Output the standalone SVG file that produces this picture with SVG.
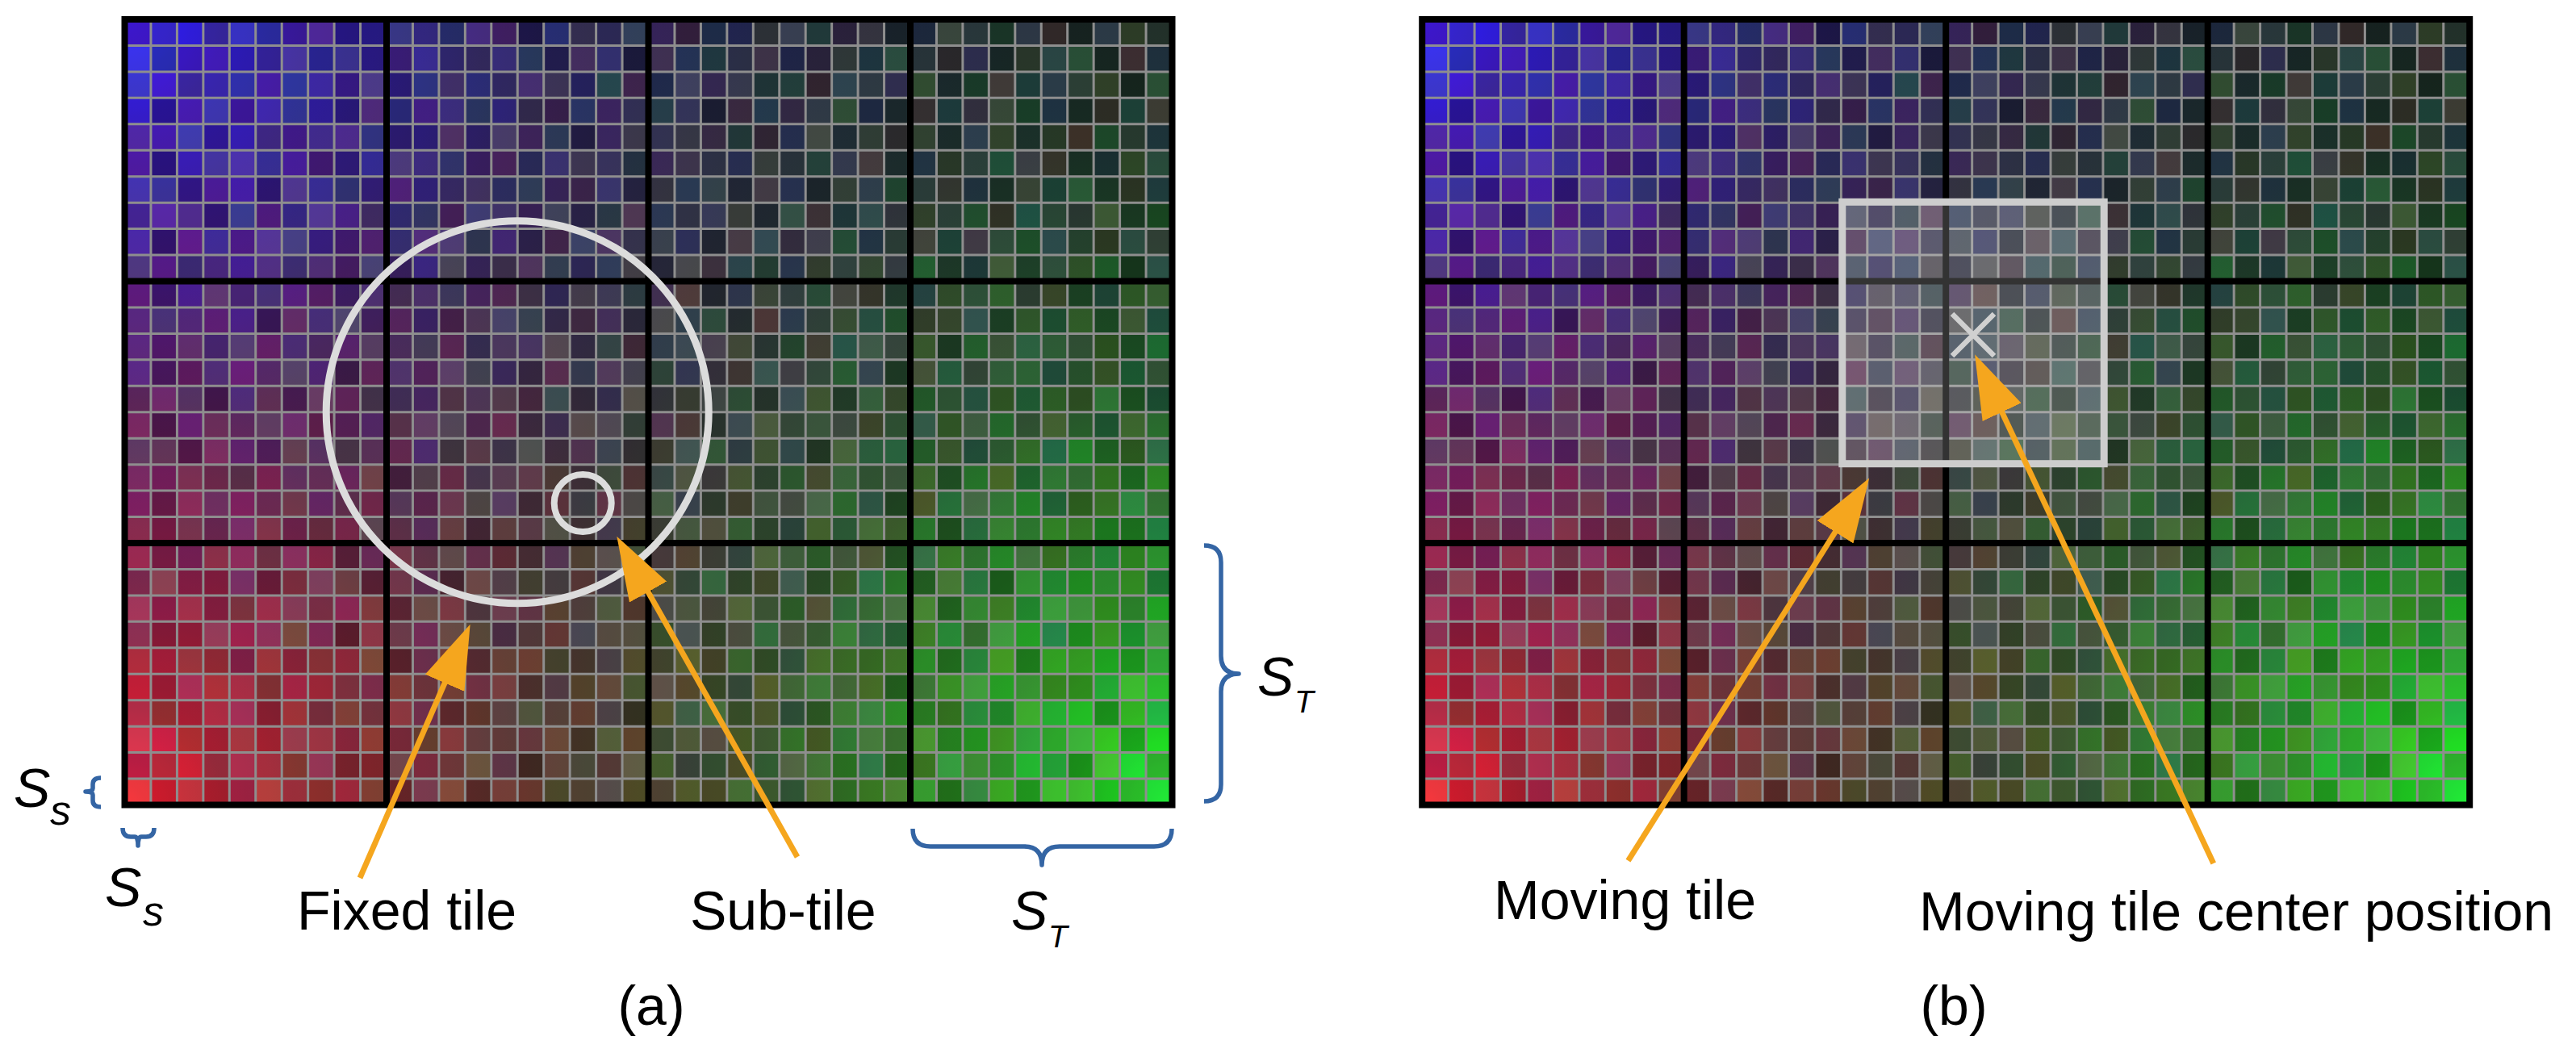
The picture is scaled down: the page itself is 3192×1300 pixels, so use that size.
<svg xmlns="http://www.w3.org/2000/svg" xmlns:xlink="http://www.w3.org/1999/xlink" width="3192" height="1300" viewBox="0 0 3192 1300">
<style>
.lbl{font-family:"Liberation Sans",Arial,sans-serif;font-size:68px;fill:#000}
.math{font-family:"Liberation Sans",Arial,sans-serif;font-style:italic;fill:#000}
.brace{fill:none;stroke:#3465a4;stroke-width:5.5;stroke-linecap:butt;stroke-linejoin:round}
.arrow{stroke:#f5a61e;stroke-width:7;fill:none}
.ring{fill:none;stroke:#dcdcdc}
.r{fill:#ff2020}.g{fill:#20ff30}.b{fill:#3030ff}.y{fill:#d8c820}.m{fill:#e020c0}.c{fill:#20c8d8}.k{fill:#000}.w{fill:#fff}
.scr{mix-blend-mode:screen}
.sub{stroke:#8e8e8e;fill:none}
.tile{stroke:#000;stroke-width:8;fill:none}
</style>
<defs>
<radialGradient id="gb" gradientUnits="userSpaceOnUse" cx="0" cy="0" r="1400">
<stop offset="0" stop-color="rgb(0,0,255)"/><stop offset=".021" stop-color="rgb(0,0,240)"/><stop offset=".086" stop-color="rgb(0,0,185)"/><stop offset=".164" stop-color="rgb(0,0,145)"/><stop offset=".364" stop-color="rgb(0,0,70)"/><stop offset=".586" stop-color="rgb(0,0,30)"/><stop offset=".786" stop-color="rgb(0,0,12)"/><stop offset="1" stop-color="rgb(0,0,0)"/>
</radialGradient>
<radialGradient id="gr" gradientUnits="userSpaceOnUse" cx="0" cy="973.5" r="1400">
<stop offset="0" stop-color="rgb(250,0,0)"/><stop offset=".021" stop-color="rgb(232,0,0)"/><stop offset=".086" stop-color="rgb(180,0,0)"/><stop offset=".164" stop-color="rgb(142,0,0)"/><stop offset=".364" stop-color="rgb(68,0,0)"/><stop offset=".586" stop-color="rgb(29,0,0)"/><stop offset=".786" stop-color="rgb(11,0,0)"/><stop offset="1" stop-color="rgb(0,0,0)"/>
</radialGradient>
<radialGradient id="gg" gradientUnits="userSpaceOnUse" cx="1298" cy="973.5" r="1400">
<stop offset="0" stop-color="rgb(0,255,0)"/><stop offset=".021" stop-color="rgb(0,240,0)"/><stop offset=".086" stop-color="rgb(0,185,0)"/><stop offset=".164" stop-color="rgb(0,145,0)"/><stop offset=".364" stop-color="rgb(0,70,0)"/><stop offset=".586" stop-color="rgb(0,30,0)"/><stop offset=".786" stop-color="rgb(0,12,0)"/><stop offset="1" stop-color="rgb(0,0,0)"/>
</radialGradient>
<pattern id="pa" patternUnits="userSpaceOnUse" x="0" y="0" width="227.15" height="162.25">
<rect class="r" x="0" y="0" width="32.45" height="32.45" opacity=".10"/>
<rect class="k" x="32.45" y="0" width="32.45" height="32.45" opacity=".15"/>
<rect class="b" x="64.9" y="0" width="32.45" height="32.45" opacity=".08"/>
<rect class="y" x="97.35" y="0" width="32.45" height="32.45" opacity=".09"/>
<rect class="w" x="129.8" y="0" width="32.45" height="32.45" opacity=".05"/>
<rect class="g" x="162.25" y="0" width="32.45" height="32.45" opacity=".08"/>
<rect class="m" x="194.7" y="0" width="32.45" height="32.45" opacity=".09"/>
<rect class="c" x="0" y="32.45" width="32.45" height="32.45" opacity=".08"/>
<rect class="g" x="32.45" y="32.45" width="32.45" height="32.45" opacity=".10"/>
<rect class="k" x="64.9" y="32.45" width="32.45" height="32.45" opacity=".10"/>
<rect class="r" x="97.35" y="32.45" width="32.45" height="32.45" opacity=".08"/>
<rect class="b" x="129.8" y="32.45" width="32.45" height="32.45" opacity=".10"/>
<rect class="k" x="162.25" y="32.45" width="32.45" height="32.45" opacity=".18"/>
<rect class="y" x="194.7" y="32.45" width="32.45" height="32.45" opacity=".08"/>
<rect class="w" x="0" y="64.9" width="32.45" height="32.45" opacity=".06"/>
<rect class="m" x="32.45" y="64.9" width="32.45" height="32.45" opacity=".08"/>
<rect class="y" x="64.9" y="64.9" width="32.45" height="32.45" opacity=".10"/>
<rect class="k" x="97.35" y="64.9" width="32.45" height="32.45" opacity=".12"/>
<rect class="g" x="129.8" y="64.9" width="32.45" height="32.45" opacity=".09"/>
<rect class="r" x="162.25" y="64.9" width="32.45" height="32.45" opacity=".10"/>
<rect class="c" x="194.7" y="64.9" width="32.45" height="32.45" opacity=".07"/>
<rect class="b" x="0" y="97.35" width="32.45" height="32.45" opacity=".10"/>
<rect class="k" x="32.45" y="97.35" width="32.45" height="32.45" opacity=".18"/>
<rect class="r" x="64.9" y="97.35" width="32.45" height="32.45" opacity=".09"/>
<rect class="c" x="97.35" y="97.35" width="32.45" height="32.45" opacity=".09"/>
<rect class="m" x="129.8" y="97.35" width="32.45" height="32.45" opacity=".10"/>
<rect class="w" x="162.25" y="97.35" width="32.45" height="32.45" opacity=".06"/>
<rect class="g" x="194.7" y="97.35" width="32.45" height="32.45" opacity=".10"/>
<rect class="y" x="0" y="129.8" width="32.45" height="32.45" opacity=".08"/>
<rect class="r" x="32.45" y="129.8" width="32.45" height="32.45" opacity=".07"/>
<rect class="g" x="64.9" y="129.8" width="32.45" height="32.45" opacity=".09"/>
<rect class="k" x="97.35" y="129.8" width="32.45" height="32.45" opacity=".15"/>
<rect class="b" x="129.8" y="129.8" width="32.45" height="32.45" opacity=".09"/>
<rect class="y" x="162.25" y="129.8" width="32.45" height="32.45" opacity=".10"/>
<rect class="k" x="194.7" y="129.8" width="32.45" height="32.45" opacity=".08"/>
</pattern>
<pattern id="pb" patternUnits="userSpaceOnUse" x="0" y="0" width="194.7" height="227.15">
<rect class="k" x="0" y="0" width="32.45" height="32.45" opacity=".10"/>
<rect class="w" x="32.45" y="0" width="32.45" height="32.45" opacity=".06"/>
<rect class="k" x="97.35" y="0" width="32.45" height="32.45" opacity=".15"/>
<rect class="c" x="129.8" y="0" width="32.45" height="32.45" opacity=".07"/>
<rect class="k" x="162.25" y="0" width="32.45" height="32.45" opacity=".06"/>
<rect class="w" x="0" y="32.45" width="32.45" height="32.45" opacity=".05"/>
<rect class="k" x="32.45" y="32.45" width="32.45" height="32.45" opacity=".12"/>
<rect class="m" x="64.9" y="32.45" width="32.45" height="32.45" opacity=".07"/>
<rect class="k" x="129.8" y="32.45" width="32.45" height="32.45" opacity=".08"/>
<rect class="w" x="162.25" y="32.45" width="32.45" height="32.45" opacity=".05"/>
<rect class="g" x="0" y="64.9" width="32.45" height="32.45" opacity=".07"/>
<rect class="k" x="64.9" y="64.9" width="32.45" height="32.45" opacity=".14"/>
<rect class="w" x="97.35" y="64.9" width="32.45" height="32.45" opacity=".06"/>
<rect class="b" x="162.25" y="64.9" width="32.45" height="32.45" opacity=".08"/>
<rect class="k" x="32.45" y="97.35" width="32.45" height="32.45" opacity=".08"/>
<rect class="y" x="97.35" y="97.35" width="32.45" height="32.45" opacity=".07"/>
<rect class="k" x="129.8" y="97.35" width="32.45" height="32.45" opacity=".14"/>
<rect class="r" x="0" y="129.8" width="32.45" height="32.45" opacity=".07"/>
<rect class="w" x="64.9" y="129.8" width="32.45" height="32.45" opacity=".06"/>
<rect class="k" x="162.25" y="129.8" width="32.45" height="32.45" opacity=".12"/>
<rect class="k" x="32.45" y="162.25" width="32.45" height="32.45" opacity=".16"/>
<rect class="c" x="97.35" y="162.25" width="32.45" height="32.45" opacity=".06"/>
<rect class="w" x="129.8" y="162.25" width="32.45" height="32.45" opacity=".05"/>
<rect class="w" x="0" y="194.7" width="32.45" height="32.45" opacity=".05"/>
<rect class="k" x="64.9" y="194.7" width="32.45" height="32.45" opacity=".10"/>
<rect class="m" x="129.8" y="194.7" width="32.45" height="32.45" opacity=".06"/>
<rect class="k" x="162.25" y="194.7" width="32.45" height="32.45" opacity=".09"/>
</pattern>
<marker id="ah" viewBox="0 -27 80 54" refX="1" refY="0" markerWidth="80" markerHeight="54" markerUnits="userSpaceOnUse" orient="auto">
<path d="M0,-26.5 L79,0 L0,26.5 Z" fill="#f5a61e"/>
</marker>
</defs>
<rect width="3192" height="1300" fill="#fff"/>

<g id="panel-a" transform="translate(154.5,24)">
<g style="isolation:isolate">
<rect width="1298" height="973.5" fill="rgb(28,26,34)"/>
<rect class="scr" width="1298" height="973.5" fill="url(#gb)"/>
<rect class="scr" width="1298" height="973.5" fill="url(#gr)"/>
<rect class="scr" width="1298" height="973.5" fill="url(#gg)"/>
</g>
<rect width="1298" height="973.5" fill="url(#pa)"/>
<rect width="1298" height="973.5" fill="url(#pb)"/>
<line class="sub" x1="0" y1="486.75" x2="1298" y2="486.75" stroke-width="973.5" stroke-dasharray="3 29.45" stroke-dashoffset="1.5"/>
<line class="sub" x1="649" y1="0" x2="649" y2="973.5" stroke-width="1298" stroke-dasharray="3 29.45" stroke-dashoffset="1.5"/>
<path class="tile" d="M324.5 0V973.5M649 0V973.5M973.5 0V973.5M0 324.5H1298M0 649H1298"/>
<rect class="tile" x="0" y="0" width="1298" height="973.5"/>
</g>

<g id="panel-b" transform="translate(1762.2,24)">
<g style="isolation:isolate">
<rect width="1298" height="973.5" fill="rgb(28,26,34)"/>
<rect class="scr" width="1298" height="973.5" fill="url(#gb)"/>
<rect class="scr" width="1298" height="973.5" fill="url(#gr)"/>
<rect class="scr" width="1298" height="973.5" fill="url(#gg)"/>
</g>
<rect width="1298" height="973.5" fill="url(#pa)"/>
<rect width="1298" height="973.5" fill="url(#pb)"/>
<line class="sub" x1="0" y1="486.75" x2="1298" y2="486.75" stroke-width="973.5" stroke-dasharray="3 29.45" stroke-dashoffset="1.5"/>
<line class="sub" x1="649" y1="0" x2="649" y2="973.5" stroke-width="1298" stroke-dasharray="3 29.45" stroke-dashoffset="1.5"/>
<path class="tile" d="M324.5 0V973.5M649 0V973.5M973.5 0V973.5M0 324.5H1298M0 649H1298"/>
<rect class="tile" x="0" y="0" width="1298" height="973.5"/>
</g>

<g id="fixed-tile">
<circle class="ring" cx="641.2" cy="510.7" r="237" stroke-width="9"/>
</g>
<g id="sub-tile">
<circle class="ring" cx="722.2" cy="623.5" r="35.5" stroke-width="8"/>
</g>

<g id="moving-tile">
<rect x="2282.8" y="250.3" width="324.4" height="324.4" fill="#fff" fill-opacity="0.2" stroke="#cdcdcd" stroke-width="9"/>
</g>
<g id="moving-tile-center">
<path d="M2419 389L2471 441M2471 389L2419 441" stroke="#d0d0d0" stroke-width="6.5" fill="none"/>
</g>

<g id="connectors">
<line class="arrow" x1="446" y1="1088" x2="551.5" y2="845.4" marker-end="url(#ah)"/>
<line class="arrow" x1="988" y1="1062" x2="802.6" y2="732.7" marker-end="url(#ah)"/>
<line class="arrow" x1="2017.5" y1="1066.7" x2="2274.6" y2="658.5" marker-end="url(#ah)"/>
<line class="arrow" x1="2742.8" y1="1070" x2="2480.2" y2="509.8" marker-end="url(#ah)"/>
</g>

<g id="braces">
<path class="brace" d="M1492,676 Q1513,676 1513,697 V813 Q1513,835 1535,835 Q1513,835 1513,857 V972 Q1513,993 1492,993"/>
<path class="brace" d="M1131,1027 Q1131,1049 1153,1049 H1269 Q1291,1049 1291,1072 Q1291,1049 1313,1049 H1430 Q1452,1049 1452,1027"/>
<path class="brace" d="M125,964 Q115,964 115,972 V977 Q115,981 106,981 Q115,981 115,985 V992 Q115,1000 125,1000"/>
<path class="brace" d="M152,1026 Q152,1037 162,1037 H167 Q171,1037 171,1048 Q171,1037 175,1037 H181 Q191,1037 191,1026"/>
</g>

<g id="labels">
<text class="math" x="17" y="1000" font-size="68">S</text>
<text class="math" x="62" y="1021.7" font-size="52">s</text>
<text class="math" x="130" y="1123.3" font-size="68">S</text>
<text class="math" x="177" y="1146.7" font-size="52">s</text>
<text class="math" x="1558" y="861.7" font-size="68">S</text>
<text class="math" x="1604" y="883.3" font-size="39">T</text>
<text class="math" x="1253" y="1152" font-size="68">S</text>
<text class="math" x="1299" y="1173.5" font-size="39">T</text>
<text class="lbl" x="368" y="1152">Fixed tile</text>
<text class="lbl" x="855" y="1152">Sub-tile</text>
<text class="lbl" x="1851" y="1139.3">Moving tile</text>
<text class="lbl" x="2378" y="1152.7">Moving tile center position</text>
<text class="lbl" x="807" y="1270" text-anchor="middle">(a)</text>
<text class="lbl" x="2421" y="1270" text-anchor="middle">(b)</text>
</g>
</svg>
